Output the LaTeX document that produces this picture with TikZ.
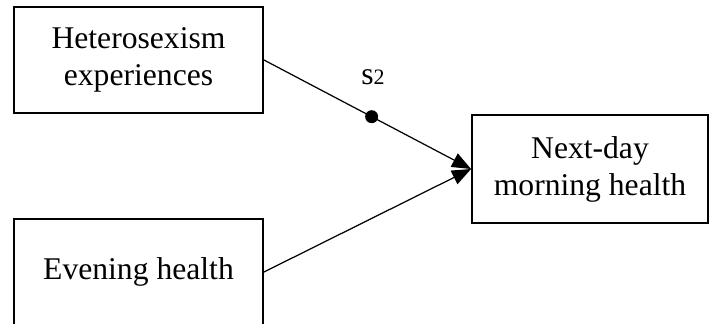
\documentclass[tikz,border=0pt]{standalone}
\usepackage{fontspec}
\setmainfont{Liberation Serif}
\usepackage{tikz}
\usetikzlibrary{arrows.meta}

\begin{document}
\begin{tikzpicture}[x=0.02cm,y=-0.02cm,
    var/.style={draw,line width=1.1pt,align=center,inner sep=0pt,
        font=\fontsize{18}{21}\selectfont},
    path/.style={line width=0.7pt,-{Triangle[length=0.38cm,width=0.3cm]}}]
    \useasboundingbox (0,0) rectangle (709,324);
    % variables
    \node[var,minimum width=249*0.02cm,minimum height=106*0.02cm] (hetero) at (138.5,60) {Heterosexism\\experiences};
    \node[var,minimum width=249*0.02cm,minimum height=106*0.02cm] (evening) at (138.5,272) {Evening health};
    \node[var,minimum width=236*0.02cm,minimum height=108*0.02cm] (morning) at (590,169) {Next-day\\morning health};
    % paths
    \draw[path] (hetero.east) -- node[pos=0.52,circle,fill,inner sep=0pt,minimum size=0.26cm] (dot) {} (morning.west);
    \draw[path] (evening.east) -- (morning.west);
    % slope label
    \node[anchor=base,inner sep=0pt] (slope) at (373,85) {{\fontsize{18}{20}\selectfont s}{\fontsize{12.5}{14}\selectfont 2}};
\end{tikzpicture}
\end{document}
